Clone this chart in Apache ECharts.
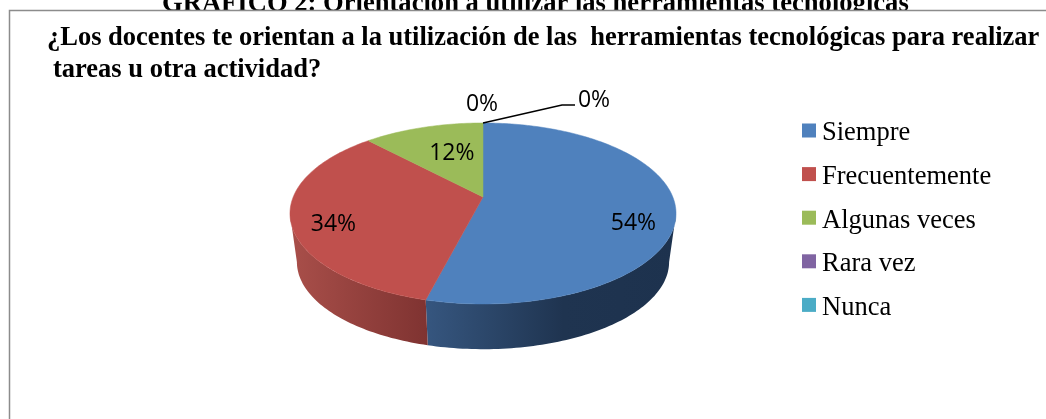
<!DOCTYPE html>
<html>
<head>
<meta charset="utf-8">
<style>
  html, body { margin: 0; padding: 0; background: #fff; overflow: hidden; }
  #chart { width: 1046px; height: 419px; }
</style>
<script src="https://cdn.jsdelivr.net/npm/echarts@6/dist/echarts.min.js"></script>
</head>
<body>
<div id="chart"></div>
<script>
const pageTitle = 'GRÁFICO 2: Orientación a utilizar las herramientas tecnológicas';
const titleLine1 = '¿Los docentes te orientan a la utilización de las  herramientas tecnológicas para realizar';
const titleLine2 = 'tareas u otra actividad?';
const categories = ['Siempre', 'Frecuentemente', 'Algunas veces', 'Rara vez', 'Nunca'];
const shares = [54, 34, 12, 0, 0];
const colors = ['#4f81bd', '#c0504d', '#9bbb59', '#8064a2', '#4bacc6'];

const serif = '"Liberation Serif", "Times New Roman", serif';
const labelFont = '"Open Sans", "Noto Sans", sans-serif';

// tilted disc, projected with a bit of perspective (near edge is bigger)
const topFace = { cx: 483, cy: 197, a: 189.8, b: 87.5 };
const bottomFace = { cx: 483, cy: 246, a: 183, b: 84.4 };
const persp = 0.182;
// angle where the outline is widest, measured from 12 o'clock
const sideAngle = Math.acos(-persp);

// label placement per slice: radius factor and pixel shift
const labelPlace = [
  { r: 0.8, dx: -3, dy: 18 },
  { r: 0.8, dx: 3, dy: 9 },
  { r: 0.55, dx: 4, dy: -3 },
  { r: 1, dx: -1, dy: -19 },
  { r: 1, dx: 111, dy: -23 }
];

const wallFills = [
  [[0, '#36567f'], [0.55, '#1f3450'], [1, '#1d324e']],
  [[0, '#a94f4a'], [1, '#7f3331']]
];

function project(face, angle, r) {
  const u = r * Math.sin(angle);
  const v = -r * Math.cos(angle);
  const d = 1 - persp * v;
  return [face.cx + face.a * u / d, face.cy + face.b * v / d];
}

function arcPoints(face, from, to) {
  const pts = [];
  const steps = Math.max(2, Math.ceil((to - from) / 0.02));
  for (let i = 0; i <= steps; i++) {
    pts.push(project(face, from + (to - from) * i / steps, 1));
  }
  return pts;
}

const total = shares.reduce((s, v) => s + v, 0);

function sliceRange(index) {
  let before = 0;
  for (let i = 0; i < index; i++) before += shares[i];
  return [before / total * 2 * Math.PI, (before + shares[index]) / total * 2 * Math.PI];
}

function renderSlice(index) {
  return function (params, api) {
    const value = api.value(0);
    const [start, end] = sliceRange(index);
    const children = [];

    // outer wall, only for the part that faces the viewer
    const wallFrom = Math.max(start, sideAngle);
    const wallTo = Math.min(end, 2 * Math.PI - sideAngle);
    if (value > 0 && wallTo > wallFrom) {
      const pts = arcPoints(topFace, wallFrom, wallTo).concat(arcPoints(bottomFace, wallFrom, wallTo).reverse());
      const stops = wallFills[index].map(s => ({ offset: s[0], color: s[1] }));
      children.push({
        type: 'polygon',
        shape: { points: pts },
        style: { fill: new echarts.graphic.LinearGradient(0, 0, 1, 0, stops) }
      });
    }

    if (value > 0) {
      const pts = [[topFace.cx, topFace.cy]].concat(arcPoints(topFace, start, end));
      children.push({
        type: 'polygon',
        shape: { points: pts },
        style: { fill: colors[index], stroke: colors[index], lineWidth: 0.5 }
      });
    }

    const place = labelPlace[index];
    const mid = (start + end) / 2;
    const pos = project(topFace, mid, place.r);
    children.push({
      type: 'text',
      z2: 10,
      style: {
        x: pos[0] + place.dx,
        y: pos[1] + place.dy,
        text: value + '%',
        fill: '#000',
        fontFamily: labelFont,
        fontSize: 23,
        align: 'center',
        verticalAlign: 'middle'
      }
    });

    // last zero slice gets a leader line out to its label
    if (index === shares.length - 1) {
      const from = project(topFace, mid, 1);
      children.push({
        type: 'polyline',
        z2: 10,
        shape: { points: [from, [from[0] + 79, from[1] - 18], [from[0] + 92, from[1] - 18]] },
        style: { stroke: '#000', lineWidth: 1.5, fill: 'none' }
      });
    }
    return { type: 'group', children: children };
  };
}

const chart = echarts.init(document.getElementById('chart'), null, { renderer: 'canvas' });

chart.setOption({
  animation: false,
  backgroundColor: '#fff',
  title: [
    { text: titleLine1, left: 42, top: 20, textStyle: { fontFamily: serif, fontSize: 26.5, fontWeight: 'bold', color: '#000' } },
    { text: titleLine2, left: 48, top: 52, textStyle: { fontFamily: serif, fontSize: 26.5, fontWeight: 'bold', color: '#000' } }
  ],
  legend: {
    orient: 'vertical',
    left: 797,
    top: 115,
    itemWidth: 14,
    itemHeight: 14,
    itemGap: 16.6,
    icon: 'rect',
    data: categories,
    selectedMode: false,
    formatter: '{t|{name}}',
    textStyle: {
      rich: {
        t: { fontFamily: serif, fontSize: 26.5, color: '#000', padding: [6, 0, 0, 1] }
      }
    }
  },
  // the chart box sits on top of the page heading and cuts off its lower edge
  graphic: [{
    type: 'text',
    z: 0,
    silent: true,
    style: { x: 162, y: -9, text: pageTitle, fill: '#000', fontFamily: serif, fontSize: 26.6, fontWeight: 'bold', verticalAlign: 'top' }
  }, {
    type: 'rect',
    z: 1,
    silent: true,
    shape: { x: 9.5, y: 10.5, width: 1200, height: 600 },
    style: { fill: '#fff', stroke: '#8c8c8c', lineWidth: 1.5 }
  }],
  series: categories.map((name, i) => ({
    name: name,
    type: 'custom',
    coordinateSystem: 'none',
    color: colors[i],
    silent: true,
    data: [[shares[i]]],
    renderItem: renderSlice(i)
  }))
});
</script>
</body>
</html>
